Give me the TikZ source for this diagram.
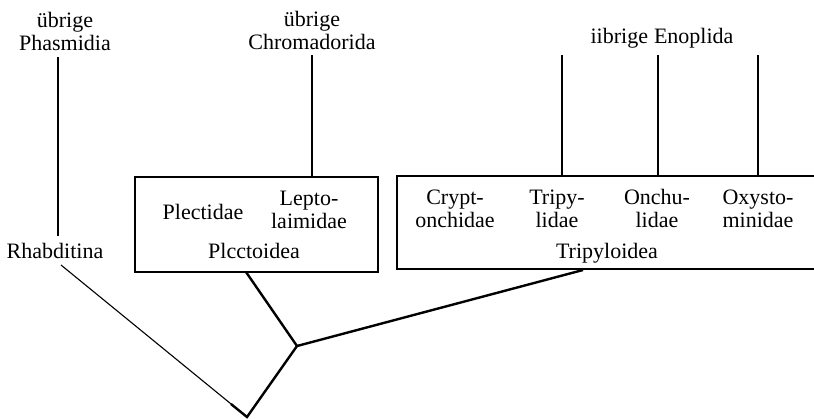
\documentclass[tikz,border=0pt]{standalone}
\usepackage{fontspec}
\setmainfont{Liberation Serif}

\begin{document}
\begin{tikzpicture}[x=1pt,y=-1pt,
    lbl/.style={font=\fontsize{22}{23}\selectfont, align=center, inner sep=0pt, anchor=base},
    thin/.style={line width=1.1pt},
    frame/.style={line width=1.5pt},
    tree/.style={line width=2.4pt}]
    \useasboundingbox (0,0) rectangle (814,418);

    % Outgroups on top
    \node[lbl] (phas) at (65,50) {übrige\\Phasmidia};
    \node[lbl] (chrom) at (312,49) {übrige\\Chromadorida};
    \node[lbl] (enop) at (662,43) {iibrige\hspace{6pt}Enoplida};
    \node[lbl] (rhab) at (55,258) {Rhabditina};

    % Plectoidea box
    \node[draw, frame, minimum width=243pt, minimum height=95pt, inner sep=0pt] (plect) at (256.5,224.5) {};
    \node[lbl] (plectidae) at (203,219) {Plectidae};
    \node[lbl] (lepto) at (309,228) {Lepto-\\laimidae};
    \node[lbl] (plectname) at (254,258) {Plcctoidea};

    % Tripyloidea box, open to the right
    \coordinate (tripne) at (814,176);
    \coordinate (tripnw) at (397,176);
    \coordinate (tripsw) at (397,269);
    \coordinate (tripse) at (814,269);
    \draw[frame] (tripne) -- (tripnw) -- (tripsw) -- (tripse);
    \node[lbl] (crypt) at (455,227) {Crypt-\\onchidae};
    \node[lbl] (tripy) at (557,227) {Tripy-\\lidae};
    \node[lbl] (onchu) at (657,227) {Onchu-\\lidae};
    \node[lbl] (oxy) at (758,227) {Oxysto-\\minidae};
    \node[lbl] (tripname) at (607,258) {Tripyloidea};

    % Branch points
    \coordinate (root) at (247,417);
    \coordinate (fork) at (297,346);
    \coordinate (rhabend) at (61,265);
    \coordinate (plectend) at (246,272);
    \coordinate (tripend) at (583,270);

    % Vertical lines
    \draw[thin] (58,57) -- (58,236);
    \draw[thin] (312,55) -- (plect.north -| 312,0);
    \draw[thin] (562,55) -- (tripnw -| 562,0);
    \draw[thin] (658,55) -- (tripnw -| 658,0);
    \draw[thin] (758,55) -- (tripnw -| 758,0);

    % Tree
    \draw[thin] (rhabend) -- (root);
    \draw[tree] (231,404) -- (root) -- (fork);
    \draw[tree] (plectend) -- (fork) -- (tripend);
\end{tikzpicture}
\end{document}
